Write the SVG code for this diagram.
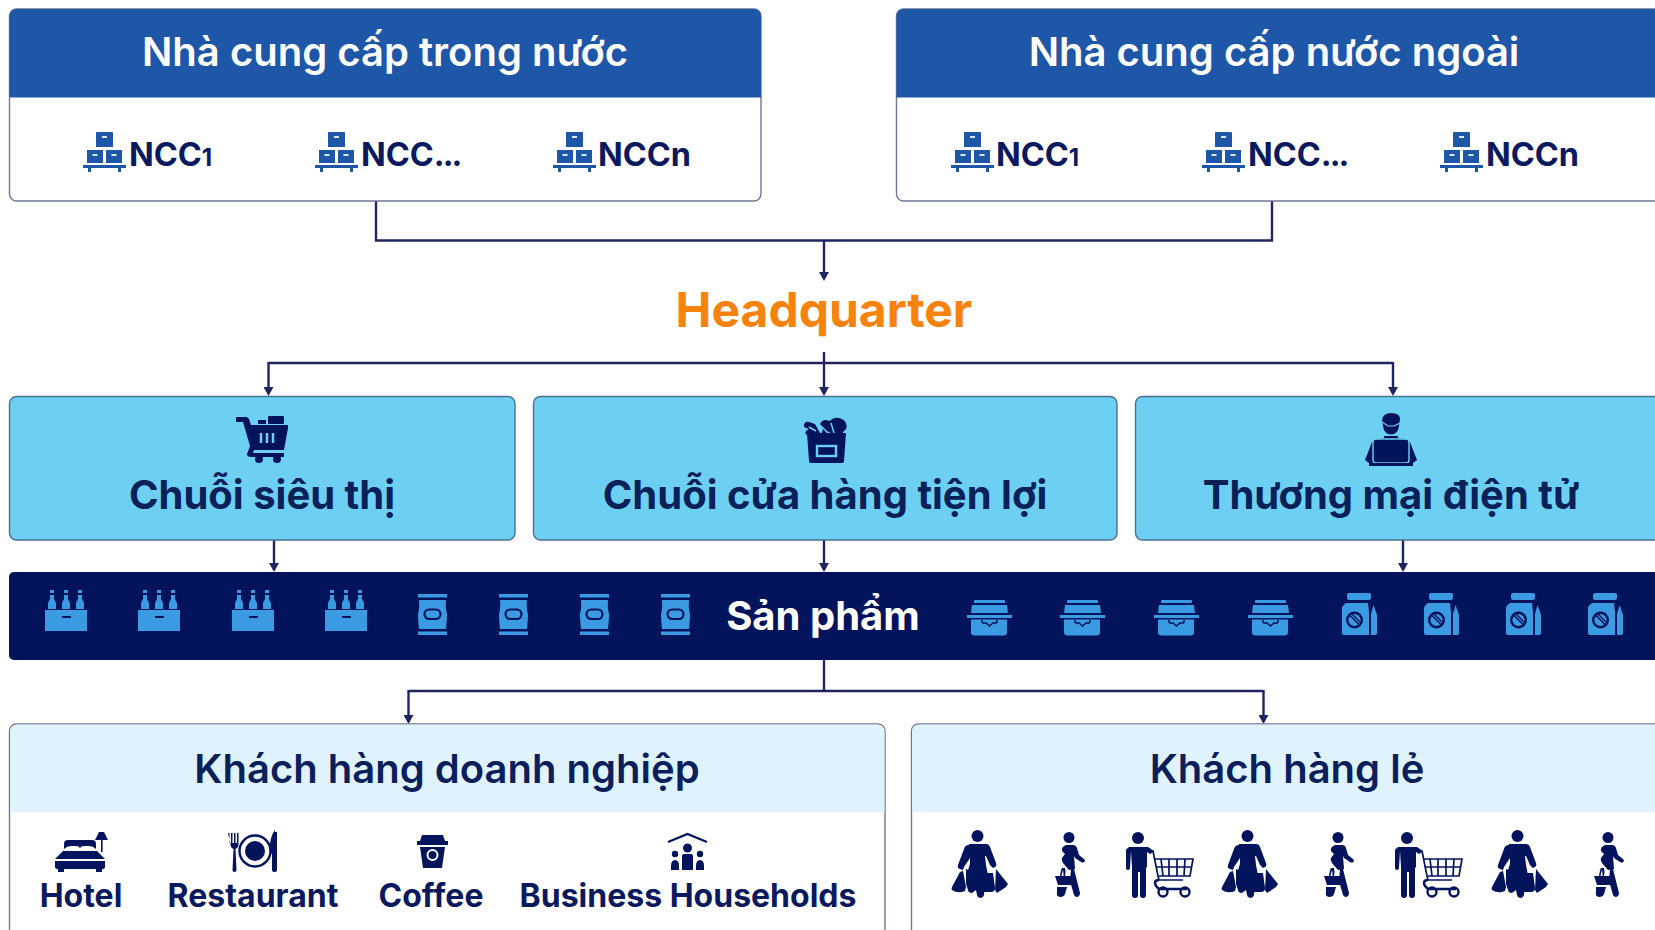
<svg xmlns="http://www.w3.org/2000/svg" width="1655" height="930" viewBox="0 0 1655 930">
<style>
text{font-family:Inter,"Noto Sans","Liberation Sans",sans-serif;font-weight:700;text-anchor:middle;fill:#0b1a5e}
.hd{font-size:40px;fill:#fff;font-weight:600}
.ncc{font-size:32.500px;text-anchor:start;font-weight:700}
.tier{font-size:40px;fill:#0a2058;font-weight:700}
.cust{font-size:40px;fill:#0a1f5c;font-weight:600}
.lab{font-size:32px;font-weight:700}
.box{fill:#fff;stroke:#6e7794;stroke-width:1.4}
.tierbox{fill:#6dd0f2;stroke:#4a6f94;stroke-width:1.4}
.conn{fill:none;stroke:#1f2560;stroke-width:2.4}
.ic{fill:#03135c}
.pb{fill:#3a9be3}
.pal{fill:#1e56a8}
</style>
<defs>
<marker id="arr" markerWidth="9" markerHeight="10" refX="6" refY="5" orient="auto" markerUnits="userSpaceOnUse" viewBox="0 0 9 10"><path d="M0 0L9 5L0 10Z" fill="#1f2560"/></marker>
<symbol id="pallet" overflow="visible"><g class="pal"><path d="M13 1a1 1 0 0 1 1-1h15a1 1 0 0 1 1 1v14h-17zM4 18h16v13h-16zM23 18h16v13h-16zM0 33h43v3h-5v4h-3v-4h-27v4h-3v-4h-5z"/></g><path d="M19 4h5v2h-5zM9.500 22h5v2h-5zM28.500 22h5v2h-5z" fill="#dbe6f5"/></symbol>
<symbol id="crate" overflow="visible"><g class="pb"><path d="M0 20h42v21h-42z"/><path d="M5 0h4v3h-4zM5 5h4v4l2 4v6h-8v-6l2-4zM19 0h4v3h-4zM19 5h4v4l2 4v6h-8v-6l2-4zM33 0h4v3h-4zM33 5h4v4l2 4v6h-8v-6l2-4z"/></g><rect x="17" y="26" width="9" height="2" fill="#03135c"/></symbol>
<symbol id="bag" overflow="visible"><path class="pb" d="M0 0h29v3.500h-29zM0 37.500h29v3.500h-29zM1 6h27q-1 7 1 14.500q0 5-1 14.500h-27q-1-9-1-14.500q2-7.500 1-14.500z"/><rect x="6.500" y="15.500" width="16" height="9.500" rx="4.700" fill="none" stroke="#03135c" stroke-width="2.200"/></symbol>
<symbol id="clam" overflow="visible"><path class="pb" d="M7 1q0-1 1-1h29q1 0 1 1v2h-31zM5 5h35l1 8h-37zM0 15h45v3h-45zM4 19.500h36l0 12.500q0 3.500-3.500 3.500h-29q-3.500 0-3.500-3.500z"/><path d="M15 20v1.500q0 1.500 2 1.500h2l3.500 3 3.500-3h2q2 0 2-1.500v-1.500" fill="none" stroke="#03135c" stroke-width="1.600"/></symbol>
<symbol id="coffee" overflow="visible"><g class="pb"><rect x="5" y="0" width="24" height="7" rx="2"/><path d="M4 10h22l1 9v23h-25q-2 0-2-2v-25q0-2 4-5z"/><path d="M29 21l2.500-9 2.500 7q1 2 1 4v17q0 2-2 2h-4z"/></g><g fill="none" stroke="#03135c" stroke-width="2.400"><circle cx="12.500" cy="27" r="7.300"/><path d="M8 22.500l9 9M10 21l8 8" stroke-width="1.500"/></g></symbol>
<symbol id="woman" overflow="visible"><g class="ic"><circle cx="25.500" cy="6" r="6"/><path d="M17 14h17q3 0 4 3l6 16q1 3-1 4l-2 1-3-3-4-9-1 0 1 9 2 10-3 8-1 12q-1 3-4 3-3-1-3-3l-1-5-4 3q-3 0-4-2l2-6-3-12 3-9v-6l-6 9-1 3-3-1q-3-1-2-4l6-16q1-4 5-4z"/><path d="M8 42l3-1 3 16-1 4q-7 3-13-1-1-1 0-3z"/><path d="M15 41l5 2 3 9-2 10h-4l-2-6z" transform="translate(-1 -2)"/><path d="M33 43h8l2 15q0 4-4 4h-7l-1-9z"/><path d="M44 39l12 15-2 3-9 6-2-3z"/></g></symbol>
<symbol id="walker" overflow="visible"><g class="ic"><circle cx="14" cy="5.500" r="5.500"/><path d="M11 13h7q3 0 4 3l2 7 5 4q2 2 0 3-1 1-3 0l-6-4-1-2 1 13-6 1-6-7q-2-3-1-5l3-4-3-3q-1-4 4-6z"/><path d="M0 44h20l-3 9h-14z"/><path d="M5 44q1-7 2-8l3 0q1 3 0 8h-1.500q0-4-.500-6-1 3-1.500 6z"/><path d="M2 55h10l-2 7q-1 3-5 3-4-1-3-4zM16 37l3 0 6 24q0 3-3 4-2 0-3-2l-4-14z"/></g></symbol>
<symbol id="cartman" overflow="visible"><g class="ic"><circle cx="13" cy="6" r="6"/><path d="M3 15h20l3 2 2 3-3 2-3-2v15l-1 1v27q0 3-3 3-3 0-3-3v-23h-2v23q0 3-3 3-3 0-3-3v-28l-1-16-1 17q0 2-2 2-2 0-2-2v-17q0-3 3-3z"/></g><g fill="none" stroke="#03135c" stroke-width="1.700"><path d="M24 18l4 1 5 25 1 4h24M29 27h39l-3 17h-31M32 35h35M36 27l2 17M44 27v17M52 27v17M60 27l-1 17"/></g><g fill="none" stroke="#03135c" stroke-width="2.400"><path d="M34 48q-4 0-4 3t4 6h28"/><circle cx="38" cy="60" r="4.500"/><circle cx="60" cy="60" r="4.500"/></g></symbol>
</defs>
<g id="conn" class="conn">
<path d="M376 201V240.500H1272V201"/>
<path d="M824 240.500V278" marker-end="url(#arr)"/>
<path d="M824 352V393" marker-end="url(#arr)"/>
<path d="M268.500 363H1393"/>
<path d="M268.500 362V393" marker-end="url(#arr)"/>
<path d="M1393 362V393" marker-end="url(#arr)"/>
<path d="M274 540V569" marker-end="url(#arr)"/>
<path d="M824 540V569" marker-end="url(#arr)"/>
<path d="M1403 540V569" marker-end="url(#arr)"/>
<path d="M824 660V691"/>
<path d="M408.500 691H1263.500"/>
<path d="M408.500 690V721" marker-end="url(#arr)"/>
<path d="M1263.500 690V721" marker-end="url(#arr)"/>
</g>
<g id="supplier-domestic">
<rect class="box" x="9.500" y="9" width="751.500" height="192" rx="7"/>
<path d="M9.500 97.500V16a7 7 0 0 1 7-7H754a7 7 0 0 1 7 7V97.500z" fill="#1e56a8"/>
<text class="hd" x="385" y="66">Nhà cung cấp trong nước</text>
<use href="#pallet" x="83" y="132"/><text class="ncc" x="129" y="166">NCC<tspan font-size="24">1</tspan></text>
<use href="#pallet" x="315" y="132"/><text class="ncc" x="361" y="166">NCC<tspan letter-spacing="-2">...</tspan></text>
<use href="#pallet" x="553" y="132"/><text class="ncc" x="598" y="166">NCCn</text>
</g>
<g id="supplier-foreign">
<rect class="box" x="896.500" y="9" width="775" height="192" rx="7"/>
<path d="M896.500 97.500V16a7 7 0 0 1 7-7H1672V97.500z" fill="#1e56a8"/>
<text class="hd" x="1274" y="66">Nhà cung cấp nước ngoài</text>
<use href="#pallet" x="951" y="132"/><text class="ncc" x="996" y="166">NCC<tspan font-size="24">1</tspan></text>
<use href="#pallet" x="1202" y="132"/><text class="ncc" x="1248" y="166">NCC<tspan letter-spacing="-2">...</tspan></text>
<use href="#pallet" x="1440" y="132"/><text class="ncc" x="1486" y="166">NCCn</text>
</g>
<g id="headquarter"><text x="824" y="327" font-size="48" style="fill:#f7830f">Headquarter</text></g>
<g id="tier-supermarket">
<rect class="tierbox" x="9.500" y="396.500" width="505.500" height="143.500" rx="7"/>
<g transform="translate(236 416)"><path class="ic" d="M0 1h10q2 0 3 2l2 6h37v3l-4 22h-30l-1 3h31v4h-33q-4 0-4-3l3-8-7-24h-7z"/><rect class="ic" x="22" y="4" width="8" height="4"/><rect class="ic" x="32" y="0" width="16" height="8" rx="1"/><circle class="ic" cx="23" cy="43" r="4"/><circle class="ic" cx="41" cy="43" r="4"/><path d="M25 17v10M31 17v10M37 17v10" stroke="#6dd0f2" stroke-width="2.500"/></g>
<text class="tier" x="262" y="509">Chuỗi siêu thị</text>
</g>
<g id="tier-convenience">
<rect class="tierbox" x="533.500" y="396.500" width="583.500" height="143.500" rx="7"/>
<g transform="translate(803 417)"><path class="ic" d="M4 16h39l-2 28q0 2-3 2h-29q-3 0-3-2z"/><path class="ic" d="M1 8q1-4 5-3l6 2 5 9-5 2h-7q-4-1-2-4l3-2-5-2zM17 7q3-6 9-3l2-1q3-3 8-2 5 1 7 5 2 5-2 8l-3 4-8-1-6-3zM20 12l6 6h-8z"/><rect x="14" y="29" width="19" height="10" fill="none" stroke="#6dd0f2" stroke-width="2.400"/><path d="M6 10l7 4M28 6l3 10" stroke="#6dd0f2" stroke-width="1.500"/></g>
<text class="tier" x="825" y="509">Chuỗi cửa hàng tiện lợi</text>
</g>
<g id="tier-ecommerce">
<rect class="tierbox" x="1135.500" y="396.500" width="536" height="143.500" rx="7"/>
<g transform="translate(1365 413)"><path class="ic" d="M17 7q1-7 9-7 9 0 9 6l-1 7q-1 8-8 9-7-1-8-9zM19 23h14v2l6 1 6 3 7 18-4 3h-44l-4-3 7-18 6-3 6-1z"/><rect x="8" y="26" width="36" height="24" rx="3" fill="#03135c" stroke="#6dd0f2" stroke-width="1.400"/><rect x="4" y="50" width="44" height="3" fill="#03135c"/><path d="M17 9l6 4h6l6-3M21 22h10" fill="none" stroke="#6dd0f2" stroke-width="1.200"/></g>
<text class="tier" x="1391" y="509">Thương mại điện tử</text>
</g>
<g id="products">
<rect x="9" y="572" width="1660" height="88" rx="5" fill="#03135c"/>
<use href="#crate" x="45" y="590"/><use href="#crate" x="138" y="590"/><use href="#crate" x="232" y="590"/><use href="#crate" x="325" y="590"/>
<use href="#bag" x="418" y="594"/><use href="#bag" x="499" y="594"/><use href="#bag" x="580" y="594"/><use href="#bag" x="661" y="594"/>
<text x="823" y="630" font-size="40" style="fill:#fff">Sản phẩm</text>
<use href="#clam" x="967" y="600"/><use href="#clam" x="1060" y="600"/><use href="#clam" x="1154" y="600"/><use href="#clam" x="1248" y="600"/>
<use href="#coffee" x="1342" y="593"/><use href="#coffee" x="1424" y="593"/><use href="#coffee" x="1506" y="593"/><use href="#coffee" x="1588" y="593"/>
</g>
<g id="business-customers">
<rect class="box" x="9.500" y="724" width="875.500" height="222" rx="7"/>
<path d="M10.200 812V731a6.500 6.500 0 0 1 6.500-6.500H878a6.500 6.500 0 0 1 6.500 6.500V812z" fill="#e0f3fc"/>
<text class="cust" x="447" y="783">Khách hàng doanh nghiệp</text>
<g transform="translate(55 832)"><path class="ic" d="M9 12q0-4 4-4h24q4 0 4 4v5q-3-3-7-3h-5q-3 0-4 2-1-2-4-2h-5q-4 0-7 3zM8 19h34l8 8h-50zM0 29h50v6q0 2-2 2h-46q-2 0-2-2zM3 37h6v3h-6zM41 37h6v3h-6z"/><path class="ic" d="M44 0h5l4 8h-13zM46 8h1.600v12h-1.600z"/></g>
<text class="lab" x="81" y="907">Hotel</text>
<g transform="translate(228 832)"><path class="ic" d="M0 1h1.500v10h1.500v-10h1.500v10h1.500v-10h1.500v10h1.500v-10h1.500v11q0 4-3 5l1 21q0 2-2 2t-2-2l1-21q-3-1-3-5z"/><circle cx="27" cy="19" r="15.500" fill="none" stroke="#03135c" stroke-width="2.400"/><circle class="ic" cx="27" cy="19" r="10"/><path class="ic" d="M47 0h2v38q0 2-2 2-3 0-3-2v-16l-2-2v-8q1-9 5-14z"/></g>
<text class="lab" x="253" y="907">Restaurant</text>
<g transform="translate(417 835)"><path class="ic" d="M5 0h21l2 6h3v4h-31v-4h3zM3 12h25l-3 21h-19z"/><circle cx="15.500" cy="20" r="5" fill="none" stroke="#fff" stroke-width="2"/></g>
<text class="lab" x="431" y="907">Coffee</text>
<g transform="translate(667 833)"><path d="M1 9L20.500 1 40 9" fill="none" stroke="#03135c" stroke-width="2.400"/><g class="ic"><circle cx="20.500" cy="15" r="4.500"/><path d="M15 23q0-2 2-2h7q2 0 2 2v14h-11z"/><circle cx="8" cy="21" r="3.200"/><path d="M4 33q0-6 4-6t4 6v4h-8z"/><circle cx="33" cy="21" r="3.200"/><path d="M29 33q0-6 4-6t4 6v4h-8z"/></g></g>
<text class="lab" x="688" y="907">Business Households</text>
</g>
<g id="retail-customers">
<rect class="box" x="911.500" y="724" width="760" height="222" rx="7"/>
<path d="M912.200 812V731a6.500 6.500 0 0 1 6.500-6.500H1672V812z" fill="#e0f3fc"/>
<text class="cust" x="1287" y="783">Khách hàng lẻ</text>
<use href="#woman" x="952" y="830"/><use href="#walker" x="1055" y="832"/><use href="#cartman" x="1125" y="832"/>
<use href="#woman" x="1222" y="830"/><use href="#walker" x="1324" y="832"/><use href="#cartman" x="1394" y="832"/>
<use href="#woman" x="1492" y="830"/><use href="#walker" x="1594" y="832"/>
</g>
</svg>
